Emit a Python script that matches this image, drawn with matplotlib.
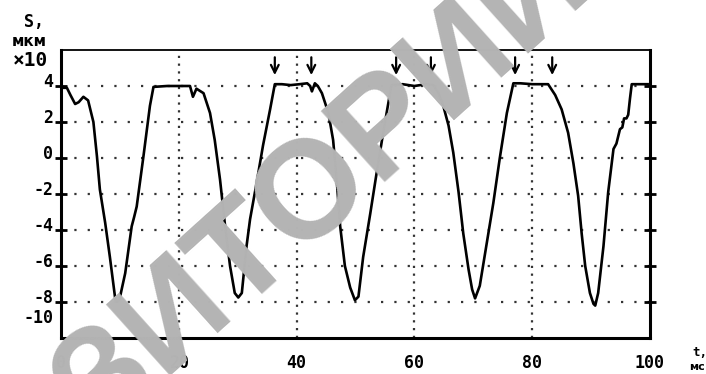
import matplotlib
matplotlib.use("Agg")
from matplotlib import pyplot as plt
from matplotlib import transforms

plt.rcParams['axes.unicode_minus'] = False

# displacement trace, time in ms, S in um x10
t_ms = [0.0, 0.3, 1.0, 1.6, 2.4, 3.0, 3.8, 4.6, 5.5, 6.1, 6.6, 7.5, 8.3, 9.2,
        9.5, 9.9, 10.9, 12.0, 12.4, 12.85, 14.0, 15.1, 15.7, 18.0, 20.0, 21.9,
        22.4, 23.0, 24.2, 25.3, 26.1, 27.0, 27.8, 28.7, 29.5, 30.1, 30.7, 31.5,
        32.1, 33.2, 34.3, 35.5, 36.3, 37.5, 39.0, 40.5, 41.8, 42.3, 42.6, 43.1,
        43.6, 44.3, 45.4, 46.2, 46.8, 47.4, 48.2, 49.1, 49.9, 50.5, 51.3, 52.5,
        53.6, 54.7, 55.6, 56.1, 58.0, 60.0, 62.0, 63.2, 64.1, 64.9, 65.8, 66.6,
        67.5, 68.3, 69.2, 69.8, 70.3, 71.1, 72.3, 73.4, 74.5, 75.7, 76.8, 78.0,
        80.0, 81.0, 82.7, 83.9, 85.0, 86.1, 87.0, 87.8, 88.4, 89.0, 89.8, 90.4,
        90.7, 91.2, 92.1, 92.9, 93.8, 94.3, 94.9, 95.3, 95.6, 96.0, 96.3, 96.6,
        96.9, 99.6]
s_val = [4.0, 3.9, 3.9, 3.5, 3.0, 3.1, 3.4, 3.2, 2.0, 0.1, -1.75, -3.6, -5.5, -7.8,
         -8.0, -7.9, -6.4, -3.8, -3.3, -2.7, 0.1, 2.9, 3.95, 4.0, 4.0, 4.0,
         3.4, 3.85, 3.6, 2.5, 1.0, -1.2, -3.6, -6.0, -7.5, -7.75, -7.5, -4.9,
         -3.4, -1.4, 0.7, 2.7, 4.1, 4.1, 4.05, 4.1, 4.15, 4.0, 3.7, 4.15,
         4.0, 3.6, 2.5, 1.0, -1.2, -3.8, -6.0, -7.2, -7.9, -7.7, -5.5, -3.1,
         -0.8, 1.4, 3.1, 4.05, 4.1, 4.0, 4.1, 4.05, 3.6, 2.9, 1.8, 0.3,
         -1.9, -4.2, -6.2, -7.3, -7.8, -7.1, -4.7, -2.5, 0.0, 2.5, 4.15, 4.15,
         4.1, 4.1, 4.1, 3.5, 2.7, 1.4, -0.3, -2.1, -4.2, -6.0, -7.5, -8.1,
         -8.2, -7.5, -4.9, -1.9, 0.5, 0.8, 1.6, 1.7, 2.2, 2.2, 2.4, 3.3,
         4.1, 4.1]

arrow_t = [36.3, 42.5, 56.9, 62.8, 77.1, 83.4]

x_labels = ['0', '20', '40', '60', '80', '100']
x_label_pos = [0, 20, 40, 60, 80, 100]
x_grid = [20, 40, 60, 80]
y_ticks = [4, 2, 0, -2, -4, -6, -8]
y_labels = ['4', '2', '0', '-2', '-4', '-6', '-8']

MONO = 'DejaVu Sans Mono'
FS = 12

fig = plt.figure(figsize=(7.06, 3.74), dpi=100)
ax = fig.add_axes([61 / 706, 36 / 374, 589 / 706, 288 / 374])
ax.set_xlim(0, 100)
ax.set_ylim(-10, 6)

# watermark
fig.text(0.492, 0.428, 'ЗИТОРИЙ', fontsize=100, fontweight='bold',
         color='#b4b4b4', rotation=42, rotation_mode='anchor',
         ha='center', va='baseline', family='Liberation Sans', zorder=0)
ax.patch.set_alpha(0)

for y in y_ticks:
    ax.axhline(y, color='#333333', lw=1.6, ls=(0, (1, 5)), zorder=1)
for x in x_grid:
    ax.axvline(x, color='#333333', lw=1.6, ls=(0, (1, 2.5)), zorder=1)

ax.plot(t_ms, s_val, color='black', lw=1.9, zorder=3)

for x in arrow_t:
    ax.annotate('', xy=(x, 4.45), xytext=(x, 5.75),
                arrowprops=dict(arrowstyle='->', color='black', lw=1.6,
                                mutation_scale=14))

for side in ['left', 'right', 'bottom']:
    ax.spines[side].set_linewidth(2.2)
ax.spines['top'].set_linewidth(1.3)

ax.set_yticks(y_ticks)
ax.set_yticklabels([])
ax.tick_params(axis='y', which='both', direction='inout', length=9, width=2,
               left=True, right=True, labelleft=False)
ax.set_xticks(x_grid)
ax.set_xticklabels([])
ax.tick_params(axis='x', direction='in', length=0)

# y tick labels, sitting slightly above their grid lines
off = transforms.offset_copy(ax.transData, fig=fig, x=-8, y=4, units='dots')
for y, lab in zip(y_ticks, y_labels):
    ax.text(0, y, lab, transform=off, ha='right', va='center',
            family=MONO, fontweight='bold', fontsize=FS, clip_on=False)
ax.text(0, -9.1, '-10', transform=off, ha='right', va='center',
        family=MONO, fontweight='bold', fontsize=FS, clip_on=False)

offx = transforms.offset_copy(ax.transData, fig=fig, x=0, y=-25, units='dots')
for x, lab in zip(x_label_pos, x_labels):
    ax.text(x, -10, lab, transform=offx, ha='center', va='center',
            family=MONO, fontweight='bold', fontsize=FS, clip_on=False)

# axis captions
fig.text(34 / 706, 1 - 22 / 374, 'S,', family=MONO, fontweight='bold',
         fontsize=FS, ha='center', va='center')
fig.text(29 / 706, 1 - 41 / 374, 'мкм', family='DejaVu Sans', fontweight='bold',
         fontsize=11, ha='center', va='center')
fig.text(30 / 706, 1 - 60 / 374, '×10', family=MONO, fontweight='bold',
         fontsize=14, ha='center', va='center')
fig.text(692 / 706, 1 - 353 / 374, 't,', family=MONO, fontweight='bold',
         fontsize=9, ha='left', va='center')
fig.text(689 / 706, 1 - 367 / 374, 'мс', family='DejaVu Sans', fontweight='bold',
         fontsize=8, ha='left', va='center')

fig.savefig('out.png', dpi=100)
